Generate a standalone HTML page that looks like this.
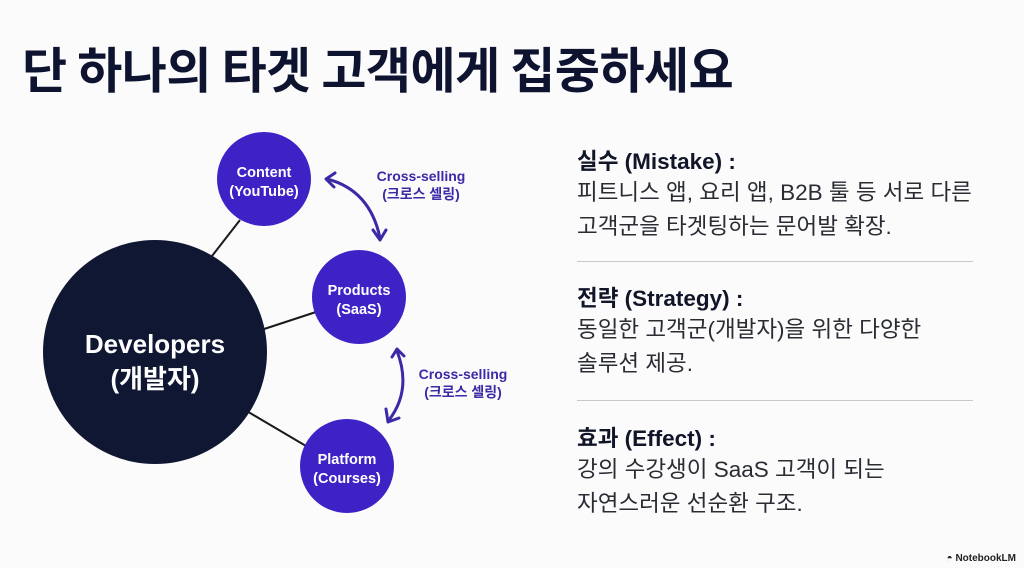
<!DOCTYPE html>
<html><head><meta charset="utf-8"><style>
html,body{margin:0;padding:0;}
body{width:1024px;height:568px;background:#fbfbfc;position:relative;overflow:hidden;font-family:"Liberation Sans","Noto Sans CJK KR",sans-serif;}
.t{position:absolute;left:22px;top:32px;font-size:49px;font-weight:700;color:#0e1430;letter-spacing:-0.5px;white-space:nowrap;font-family:"Noto Sans CJK KR","Liberation Sans",sans-serif;}
.r{position:absolute;left:577px;color:#1c1f2a;font-family:"Liberation Sans","Noto Sans CJK KR",sans-serif;}
.h{font-size:22.5px;font-weight:700;color:#111528;}
.b{font-size:22.5px;line-height:34px;color:#2a2c33;}
.sep{position:absolute;left:577px;width:396px;height:1px;background:#c8c8cc;}
</style></head><body>
<div class="t">단 하나의 타겟 고객에게 집중하세요</div>
<svg width="1024" height="568" style="position:absolute;left:0;top:0">
<g stroke="#1a1a1a" stroke-width="2">
<line x1="205" y1="265" x2="240" y2="220"/>
<line x1="255" y1="332" x2="316" y2="312"/>
<line x1="245" y1="410" x2="306" y2="446"/>
</g>
<circle cx="155" cy="352" r="112" fill="#0f1733"/>
<g fill="#3f22c6">
<circle cx="264" cy="179" r="47"/>
<circle cx="359" cy="297" r="47"/>
<circle cx="347" cy="466" r="47"/>
</g>
<g fill="none" stroke="#3b2aa6" stroke-width="3" stroke-linecap="round" stroke-linejoin="round">
<path d="M327,179 Q370,190 380,238"/>
<path d="M335,173 L326,179 L334,187"/>
<path d="M373,230 L380,240 L386,230"/>
<path d="M397,351 Q412,390 389,420"/>
<path d="M392,357 L397,349 L404,356"/>
<path d="M386,409 L388,422 L399,418"/>
</g>
<g font-family="Liberation Sans, Noto Sans CJK KR, sans-serif" font-weight="700" fill="#fff" text-anchor="middle">
<text x="155" y="353" font-size="26">Developers</text>
<text x="155" y="388" font-size="26">(개발자)</text>
<text x="264" y="177" font-size="14.5">Content</text>
<text x="264" y="196" font-size="14.5">(YouTube)</text>
<text x="359" y="295" font-size="14.5">Products</text>
<text x="359" y="314" font-size="14.5">(SaaS)</text>
<text x="347" y="464" font-size="14.5">Platform</text>
<text x="347" y="483" font-size="14.5">(Courses)</text>
</g>
<g font-family="Liberation Sans, Noto Sans CJK KR, sans-serif" font-weight="700" fill="#3b2aa6" text-anchor="middle" font-size="14">
<text x="421" y="181">Cross-selling</text>
<text x="421" y="199">(크로스 셀링)</text>
<text x="463" y="379">Cross-selling</text>
<text x="463" y="397">(크로스 셀링)</text>
</g>
<text x="1016" y="561" text-anchor="end" font-family="Liberation Sans, sans-serif" font-size="10" font-weight="700" fill="#222">◓ NotebookLM</text>
</svg>
<div class="r" style="top:144px"><div class="h">실수 (Mistake) :</div><div class="b">피트니스 앱, 요리 앱, B2B 툴 등 서로 다른<br>고객군을 타겟팅하는 문어발 확장.</div></div>
<div class="sep" style="top:261px"></div>
<div class="r" style="top:281px"><div class="h">전략 (Strategy) :</div><div class="b">동일한 고객군(개발자)을 위한 다양한<br>솔루션 제공.</div></div>
<div class="sep" style="top:400px"></div>
<div class="r" style="top:421px"><div class="h">효과 (Effect) :</div><div class="b">강의 수강생이 SaaS 고객이 되는<br>자연스러운 선순환 구조.</div></div>
</body></html>
